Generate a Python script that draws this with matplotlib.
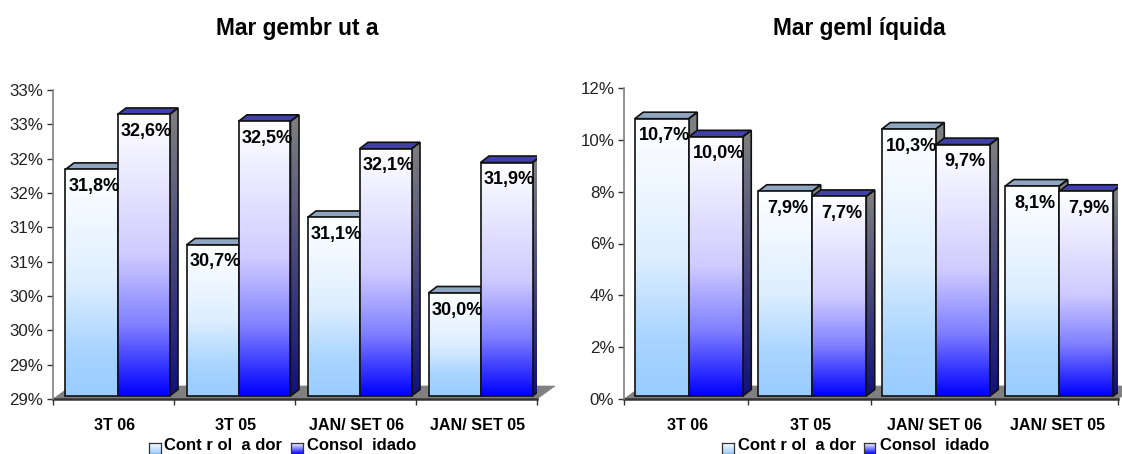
import numpy as np
import matplotlib
matplotlib.use("Agg")
import matplotlib.pyplot as plt
from matplotlib.colors import LinearSegmentedColormap
from matplotlib.patches import Polygon

plt.rcParams['font.family'] = ['Liberation Sans', 'DejaVu Sans']

categories = ["3T 06", "3T 05", "JAN/ SET 06", "JAN/ SET 05"]
series_names = ["Cont r ol  a dor", "Consol  idado"]
bruta_controlador = [31.8, 30.7, 31.1, 30.0]
bruta_consolidado = [32.6, 32.5, 32.1, 31.9]
liquida_controlador = [10.7, 7.9, 10.3, 8.1]
liquida_consolidado = [10.0, 7.7, 9.7, 7.9]
bruta_ticks = [28.5, 29, 29.5, 30, 30.5, 31, 31.5, 32, 32.5, 33]
bruta_ticklabels = ["29%", "29%", "30%", "30%", "31%", "31%", "32%", "32%", "33%", "33%"]
liquida_ticks = [0, 2, 4, 6, 8, 10, 12]
liquida_ticklabels = ["0%", "2%", "4%", "6%", "8%", "10%", "12%"]

W, H = 1122, 454
fig = plt.figure(figsize=(W / 100, H / 100), dpi=100, facecolor='white')

front = [LinearSegmentedColormap.from_list('a', [(0, '#FFFFFF'), (0.5, '#DDEEFF'), (0.8, '#A8D4FF'), (1, '#99CCFF')]),
         LinearSegmentedColormap.from_list('b', [(0, '#FFFFFF'), (0.5, '#CFCBFF'), (0.75, '#7F7FFF'), (1, '#0000FF')])]
side = [LinearSegmentedColormap.from_list('c', ['#808080', '#4D6680']),
        LinearSegmentedColormap.from_list('d', ['#808080', '#10107A'])]
top_col = ['#8FA6C2', '#4040A8']
GRAD = np.linspace(0, 1, 256).reshape(-1, 1)


def gradient(ax, cmap, verts, z):
    xs, ys = zip(*verts)
    im = ax.imshow(GRAD, cmap=cmap, aspect='auto', origin='upper', vmin=0, vmax=1,
                   extent=(min(xs), max(xs), min(ys), max(ys)), zorder=z)
    poly = Polygon(verts, closed=True, facecolor='none', edgecolor='#111111', lw=1.2, zorder=z + 0.1)
    ax.add_patch(poly)
    im.set_clip_path(poly)


def chart(box, ylim, ticks, ticklabels, s0, s1, bar_px, shift_px, title, title_x, label_dy, leg):
    x0, x1, ytop, ybot = box
    ax = fig.add_axes([x0 / W, 1 - ybot / H, (x1 - x0) / W, (ybot - ytop) / H])
    ax.patch.set_alpha(0)
    n = len(categories)
    ax.set_xlim(0, n)
    ax.set_ylim(*ylim)
    px = n / (x1 - x0)
    py = (ylim[1] - ylim[0]) / (ybot - ytop)

    ax.add_patch(Polygon([(0, ylim[0]), (n, ylim[0]), (n + 18 * px, ylim[0] + 13 * py), (18 * px, ylim[0] + 13 * py)],
                         closed=True, facecolor='#808080', edgecolor='#808080', lw=0.5, zorder=1, clip_on=False))
    ax.plot([0, n], [ylim[0], ylim[0]], color='#333333', lw=1.8, zorder=1.5, clip_on=False)

    base = ylim[0] + 3 * py
    w = bar_px * px
    dx, dy = 8.5 * px, 6.5 * py
    for k in range(n):
        xc = k + 0.5 + shift_px * px
        for s, vals in enumerate((s0, s1)):
            v = vals[k]
            vy = v + 3 * py
            l, r = xc - w + s * w, xc + s * w
            z = 2 + k + s * 0.3
            gradient(ax, side[s], [(r, base), (r + dx, base + dy), (r + dx, vy + dy), (r, vy)], z)
            ax.add_patch(Polygon([(l, vy), (r, vy), (r + dx, vy + dy), (l + dx, vy + dy)], closed=True,
                                 facecolor=top_col[s], edgecolor='#111111', lw=1.2, zorder=z + 0.05))
            gradient(ax, front[s], [(l, base), (r, base), (r, vy), (l, vy)], z + 0.1)
            ax.text(l + w / 2 + 2.5 * px, vy - label_dy * py, f"{v:.1f}".replace('.', ',') + '%',
                    ha='center', va='center', fontsize=13, fontweight='bold', color='#000000', zorder=20)

    ax.set_xlim(0, n)
    ax.set_ylim(*ylim)
    for sp in ('top', 'right', 'bottom'):
        ax.spines[sp].set_visible(False)
    ax.spines['left'].set_color('#808080')
    ax.spines['left'].set_linewidth(1.2)
    ax.set_yticks(ticks)
    ax.set_yticklabels(ticklabels, fontsize=12.2, color='#222222')
    ax.set_xticks(range(n + 1))
    ax.set_xticklabels([])
    ax.set_xticks([i + 0.5 + 1.5 * px for i in range(n)], categories, minor=True, fontsize=11.6,
                  fontweight='bold', color='#000000')
    ax.tick_params(axis='x', which='minor', length=0, pad=14)
    ax.tick_params(axis='x', which='major', length=4, width=1, color='#333333')
    ax.tick_params(axis='y', length=4, width=1, color='#333333', pad=3)

    fig.text(title_x / W, 1 - 28 / H, title, ha='center', va='center', fontsize=16.4, fontweight='bold', color='#000000')

    for s, (sx, tx) in enumerate(leg):
        sw = fig.add_axes([sx / W, 1 - 453.5 / H, 11.5 / W, 11 / H])
        sw.imshow(GRAD, cmap=LinearSegmentedColormap.from_list('l', ['#FFFFFF', '#99CCFF'] if s == 0 else ['#FFFFFF', '#0000FF']),
                  aspect='auto', vmin=0, vmax=1)
        sw.set_xticks([])
        sw.set_yticks([])
        for sp in sw.spines.values():
            sp.set_color('#333333')
            sp.set_linewidth(0.9)
        fig.text(tx / W, 1 - 450 / H, series_names[s], ha='left', va='baseline', fontsize=12,
                 fontweight='bold', color='#000000')


chart((53, 537, 90, 399), (28.5, 33.0), bruta_ticks, bruta_ticklabels, bruta_controlador, bruta_consolidado,
      52, 4, "Mar gembr ut a", 297.5, 17, [(149, 164), (291, 307)])
chart((624, 1118, 88, 399), (0, 12), liquida_ticks, liquida_ticklabels, liquida_controlador, liquida_consolidado,
      54, 3, "Mar geml íquida", 859.5, 17, [(722, 738), (863.5, 880)])

fig.savefig('out.png', dpi=100)
